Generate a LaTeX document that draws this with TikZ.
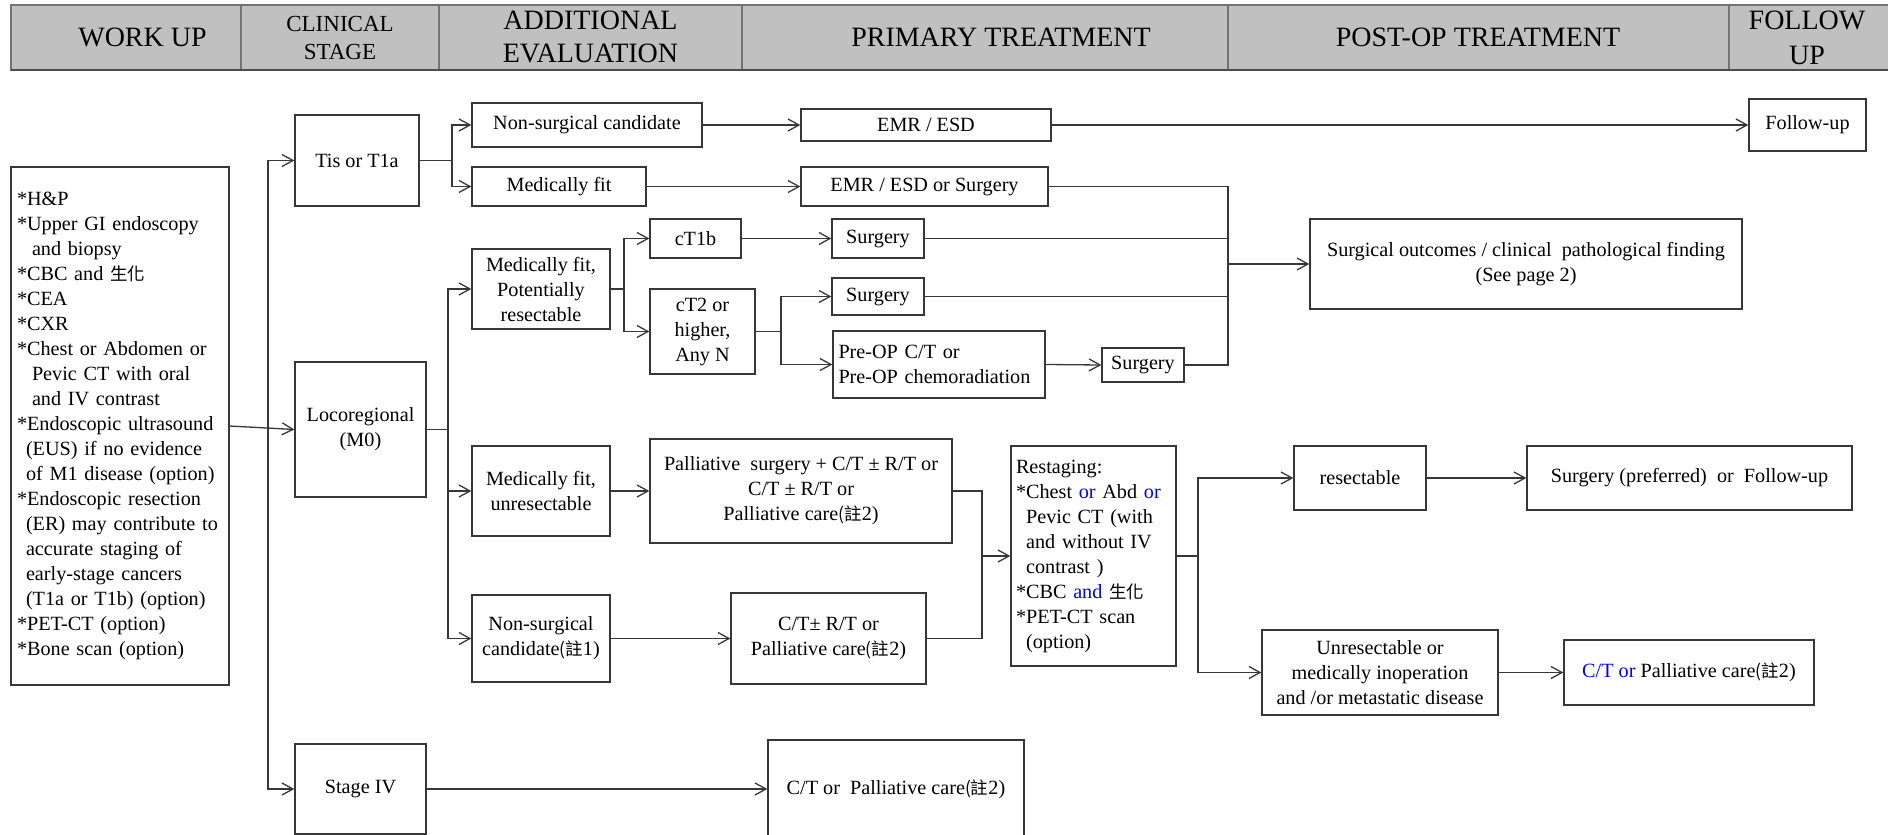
\documentclass[tikz,border=0pt]{standalone}
\usepackage{fontspec}
\setmainfont{Liberation Serif}
\newfontfamily\cjk{Noto Sans CJK TC}
\usetikzlibrary{arrows.meta}
\definecolor{hdr}{RGB}{192,192,192}
\definecolor{lncol}{RGB}{55,55,55}
\definecolor{bl}{RGB}{0,0,255}
\newcommand\fs{\fontsize{20.2}{25}\selectfont}
\newcommand\zh[1]{{\cjk\fontsize{17.5}{25}\selectfont #1}}
\newcommand\note[1]{\zh{(註}#1)}
\newcommand\st{{}*}
\newcommand\bx[6][]{\node[box,#1,minimum width={(#5)-(#3)},minimum height={(#6)-(#4)}] (#2) at ({((#3)+(#5))/2},{((#4)+(#6))/2})}
\begin{document}
\begin{tikzpicture}[x=1pt,y=-1pt,
  box/.style={draw=lncol,line width=1.3pt,inner sep=0pt,align=center,font=\fs,text=black},
  wire/.style={draw=lncol,line width=1.3pt,line cap=rect},
  arr/.style={wire,-{Straight Barb[length=11pt,width=12pt]}},
  hbox/.style={draw=black!55,fill=hdr,line width=1.2pt},
  htxt/.style={font=\fontsize{28}{33}\selectfont,align=center,inner sep=0pt}]
\useasboundingbox (0,0) rectangle (1888,835);
% header
\foreach \a/\b in {11/241,241/439,439/742,742/1228,1228/1729,1729/1895}
  \draw[hbox] (\a,5) rectangle (\b,70);
\draw[black!70,line width=2pt] (11,70) -- (1888,70);
\node[htxt] (hwork) at (142.5,37.5) {WORK UP};
\node[htxt,font=\fontsize{23}{28}\selectfont] (hstage) at (340,37.8) {CLINICAL\\STAGE};
\node[htxt,font=\fontsize{28}{32.5}\selectfont] (heval) at (590.5,36.7) {ADDITIONAL\\EVALUATION};
\node[htxt] (hprim) at (1001,37.5) {PRIMARY TREATMENT};
\node[htxt] (hpost) at (1478,37.5) {POST-OP TREATMENT};
\node[htxt,font=\fontsize{28}{35}\selectfont] (hfu) at (1807,37.5) {FOLLOW\\UP};
% nodes
\bx[align=left,text width=206pt]{workup}{11}{167}{229}{685}{\st H\&P\\\st Upper GI endoscopy\\\hspace*{15pt}and biopsy\\\st CBC and \zh{生化}\\\st CEA\\\st CXR\\\st Chest or Abdomen or\\\hspace*{15pt}Pevic CT with oral\\\hspace*{15pt}and IV contrast\\\st Endoscopic ultrasound\\\hspace*{9pt}(EUS) if no evidence\\\hspace*{9pt}of M1 disease (option)\\\st Endoscopic resection\\\hspace*{9pt}(ER) may contribute to\\\hspace*{9pt}accurate staging of\\\hspace*{9pt}early-stage cancers\\\hspace*{9pt}(T1a or T1b) (option)\\\st PET-CT (option)\\\st Bone scan (option)};
\bx{tis}{295}{115}{419}{206}{Tis or T1a};
\bx{loco}{295}{362}{426}{497}{Locoregional\\(M0)};
\bx{stage4}{295}{744}{426}{834}{Stage IV};
\bx{nonsurg1}{472}{103}{702}{147}{Non-surgical candidate};
\bx{medfit1}{472}{167}{646}{206}{Medically fit};
\bx{emr1}{801}{109}{1051}{141}{EMR / ESD};
\bx{emr2}{801}{167}{1048}{206}{EMR / ESD or Surgery};
\bx{follow}{1749}{99}{1866}{151}{Follow-up};
\bx{medfitpr}{472}{249}{610}{329}{Medically fit,\\Potentially\\resectable};
\bx{ct1b}{650}{219}{741}{258}{cT1b};
\bx{ct2}{650}{289}{755}{374}{cT2 or\\higher,\\Any N};
\bx{surg1}{832}{219}{924}{258}{Surgery};
\bx{surg2}{832}{278}{924}{315}{Surgery};
\bx[align=left,text width=201pt]{preop}{833}{331}{1045}{398}{Pre-OP C/T or\\Pre-OP chemoradiation};
\bx{surg3}{1102}{348}{1184}{382}{Surgery};
\bx{outcome}{1310}{219}{1742}{309}{Surgical outcomes / clinical\ \ pathological finding\\(See page 2)};
\bx{medfitun}{472}{446}{610}{536}{Medically fit,\\unresectable};
\bx{nonsurg2}{472}{595}{610}{682}{Non-surgical\\candidate\note{1}};
\bx{palli}{650}{439}{952}{543}{Palliative\ \ surgery + C/T ± R/T or\\C/T ± R/T or\\Palliative care\note{2}};
\bx{ctrt}{731}{593}{926}{684}{C/T± R/T or\\Palliative care\note{2}};
\bx[align=left,text width=155pt]{restage}{1011}{446}{1176}{666}{Restaging:\\\st Chest \textcolor{bl}{or} Abd \textcolor{bl}{or}\\\phantom{*}Pevic CT (with\\\phantom{*}and without IV\\\phantom{*}contrast )\\\st CBC \textcolor{bl}{and} \zh{生化}\\\st PET-CT scan\\\phantom{*}(option)};
\bx{resect}{1294}{446}{1426}{510}{resectable};
\bx{surgpref}{1527}{446}{1852}{510}{Surgery (preferred)\ \ or\ \ Follow-up};
\bx{unresect}{1262}{630}{1498}{715}{Unresectable or\\medically inoperation\\and /or metastatic disease};
\bx{ctpall}{1564}{640}{1814}{705}{\textcolor{bl}{C/T or} Palliative care\note{2}};
\bx{ct4}{768}{740}{1024}{838}{C/T or\ \ Palliative care\note{2}};
% junction coordinates
\coordinate (trunk) at (268,0);
\coordinate (b1) at (452,0);
\coordinate (b2) at (448,0);
\coordinate (b3) at (624,0);
\coordinate (b4) at (781,0);
\coordinate (m1) at (1228,0);
\coordinate (m2) at (982,0);
\coordinate (b5) at (1198,0);
% connectors
\draw[arr] (workup.east) -- (loco.west);
\draw[wire] (trunk |- tis.west) -- (trunk |- stage4.west);
\draw[arr] (trunk |- tis.west) -- (tis.west);
\draw[arr] (trunk |- stage4.west) -- (stage4.west);
\draw[wire] (tis.east) -- (b1 |- tis.east);
\draw[wire] (b1 |- nonsurg1.west) -- (b1 |- medfit1.west);
\draw[arr] (b1 |- nonsurg1.west) -- (nonsurg1.west);
\draw[arr] (b1 |- medfit1.west) -- (medfit1.west);
\draw[arr] (nonsurg1.east) -- (emr1.west);
\draw[arr] (medfit1.east) -- (emr2.west);
\draw[arr] (emr1.east) -- (follow.west);
\draw[wire] (emr2.east) -- (m1 |- emr2.east);
\draw[wire] (surg1.east) -- (m1 |- surg1.east);
\draw[wire] (surg2.east) -- (m1 |- surg2.east);
\draw[wire] (surg3.east) -- (m1 |- surg3.east);
\draw[wire] (m1 |- emr2.east) -- (m1 |- surg3.east);
\draw[arr] (m1 |- outcome.west) -- (outcome.west);
\draw[wire] (loco.east) -- (b2 |- loco.east);
\draw[wire] (b2 |- medfitpr.west) -- (b2 |- nonsurg2.west);
\draw[arr] (b2 |- medfitpr.west) -- (medfitpr.west);
\draw[arr] (b2 |- medfitun.west) -- (medfitun.west);
\draw[arr] (b2 |- nonsurg2.west) -- (nonsurg2.west);
\draw[wire] (medfitpr.east) -- (b3 |- medfitpr.east);
\draw[wire] (b3 |- ct1b.west) -- (b3 |- ct2.west);
\draw[arr] (b3 |- ct1b.west) -- (ct1b.west);
\draw[arr] (b3 |- ct2.west) -- (ct2.west);
\draw[arr] (ct1b.east) -- (surg1.west);
\draw[wire] (ct2.east) -- (b4 |- ct2.east);
\draw[wire] (b4 |- surg2.west) -- (b4 |- preop.west);
\draw[arr] (b4 |- surg2.west) -- (surg2.west);
\draw[arr] (b4 |- preop.west) -- (preop.west);
\draw[arr] (preop.east) -- (surg3.west);
\draw[arr] (medfitun.east) -- (palli.west);
\draw[arr] (nonsurg2.east) -- (ctrt.west);
\draw[wire] (palli.east) -- (m2 |- palli.east);
\draw[wire] (ctrt.east) -- (m2 |- ctrt.east);
\draw[wire] (m2 |- palli.east) -- (m2 |- ctrt.east);
\draw[arr] (m2 |- restage.west) -- (restage.west);
\draw[wire] (restage.east) -- (b5 |- restage.east);
\draw[wire] (b5 |- resect.west) -- (b5 |- unresect.west);
\draw[arr] (b5 |- resect.west) -- (resect.west);
\draw[arr] (b5 |- unresect.west) -- (unresect.west);
\draw[arr] (resect.east) -- (surgpref.west);
\draw[arr] (unresect.east) -- (ctpall.west);
\draw[arr] (stage4.east) -- (ct4.west);
\end{tikzpicture}
\end{document}
